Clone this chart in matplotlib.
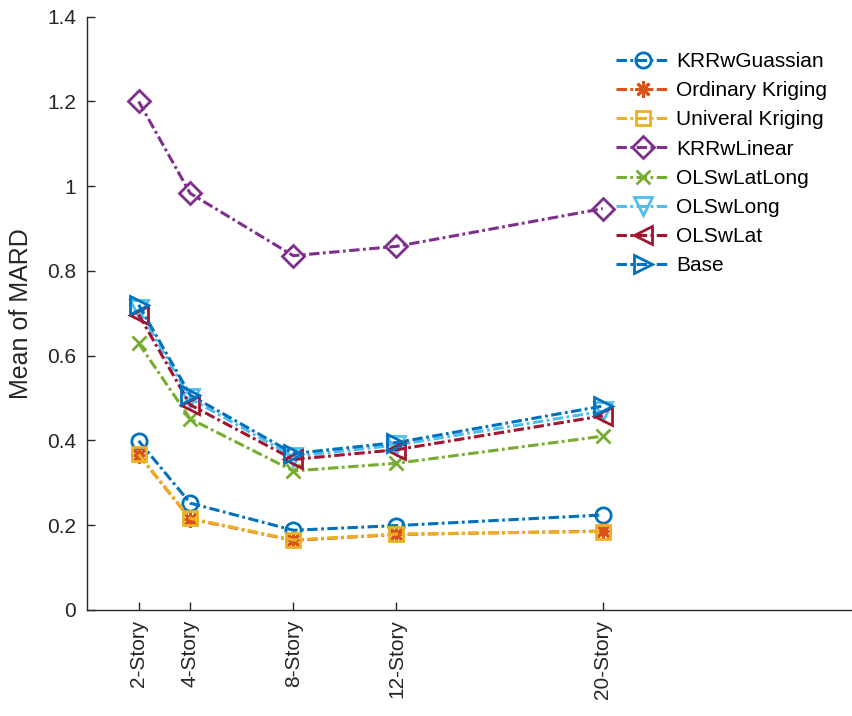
import matplotlib
matplotlib.use("Agg")
import matplotlib.pyplot as plt

plt.rcParams['font.family'] = ['Liberation Sans', 'DejaVu Sans']
plt.rcParams['lines.scale_dashes'] = False

stories = [2, 4, 8, 12, 20]
tick_labels = ['2-Story', '4-Story', '8-Story', '12-Story', '20-Story']

krr_gauss = [0.399, 0.252, 0.188, 0.199, 0.224]
ord_krig = [0.366, 0.215, 0.164, 0.178, 0.186]
uni_krig = [0.367, 0.216, 0.165, 0.179, 0.185]
krr_linear = [1.200, 0.983, 0.836, 0.858, 0.947]
ols_latlong = [0.629, 0.451, 0.328, 0.346, 0.410]
ols_long = [0.709, 0.499, 0.362, 0.389, 0.469]
ols_lat = [0.697, 0.484, 0.355, 0.378, 0.458]
base = [0.720, 0.507, 0.369, 0.395, 0.481]

series = [
    ('KRRwGuassian', krr_gauss, '#0072BD', 'o'),
    ('Ordinary Kriging', ord_krig, '#D95319', (8, 2, 0)),
    ('Univeral Kriging', uni_krig, '#EDB120', 's'),
    ('KRRwLinear', krr_linear, '#7E2F8E', 'D'),
    ('OLSwLatLong', ols_latlong, '#77AC30', 'x'),
    ('OLSwLong', ols_long, '#4DBEEE', 'v'),
    ('OLSwLat', ols_lat, '#A2142F', '<'),
    ('Base', base, '#0072BD', '>'),
]
sizes = {'o': 11, 's': 10, 'D': 11.5, 'x': 10, 'v': 13, '<': 13, '>': 13}

W, H = 853, 716
fig = plt.figure(figsize=(W / 100, H / 100), dpi=100)
x0, y_bot, y_top = 87.1, 609.9, 16.7
ax = fig.add_axes([x0 / W, (H - y_bot) / H, (W - x0) / W, (y_bot - y_top) / H])

ls = (0, (7.5, 2.5, 2, 2.5))
for name, vals, col, mk in series:
    ms = sizes.get(mk, 12) if isinstance(mk, str) else 12
    ax.plot(stories, vals, linestyle=ls, color=col, lw=2.2, marker=mk,
            markersize=ms, markerfacecolor='none', markeredgecolor=col,
            markeredgewidth=2, label=name)

ax.set_xlim(0, (W - x0) / 25.78)
ax.set_ylim(0, 1.4)
ax.set_xticks(stories)
ax.set_xticklabels(tick_labels, rotation=90, va='top')
ax.set_yticks([0, 0.2, 0.4, 0.6, 0.8, 1.0, 1.2, 1.4])
ax.set_yticklabels(['0', '0.2', '0.4', '0.6', '0.8', '1', '1.2', '1.4'])
ax.tick_params(direction='in', length=6, width=1, colors='#262626',
               labelsize=15, pad=8)
ax.tick_params(axis='x', pad=7)
for s in ['top', 'right']:
    ax.spines[s].set_visible(False)
for s in ['left', 'bottom']:
    ax.spines[s].set_color('#262626')
    ax.spines[s].set_linewidth(1)

ax.set_ylabel('Mean of MARD', fontsize=18, color='#262626')
ax.yaxis.set_label_coords((33 - x0) / (W - x0), 0.5)

leg = ax.legend(loc='upper left', bbox_to_anchor=(616 / W, 1 - 52 / H),
                bbox_transform=fig.transFigure, frameon=False, fontsize=15,
                handlelength=2.55, handletextpad=0.35, labelspacing=0.49,
                borderpad=0, borderaxespad=0)
for t in leg.get_texts():
    t.set_color('#000000')

fig.savefig('out.png', dpi=100)
